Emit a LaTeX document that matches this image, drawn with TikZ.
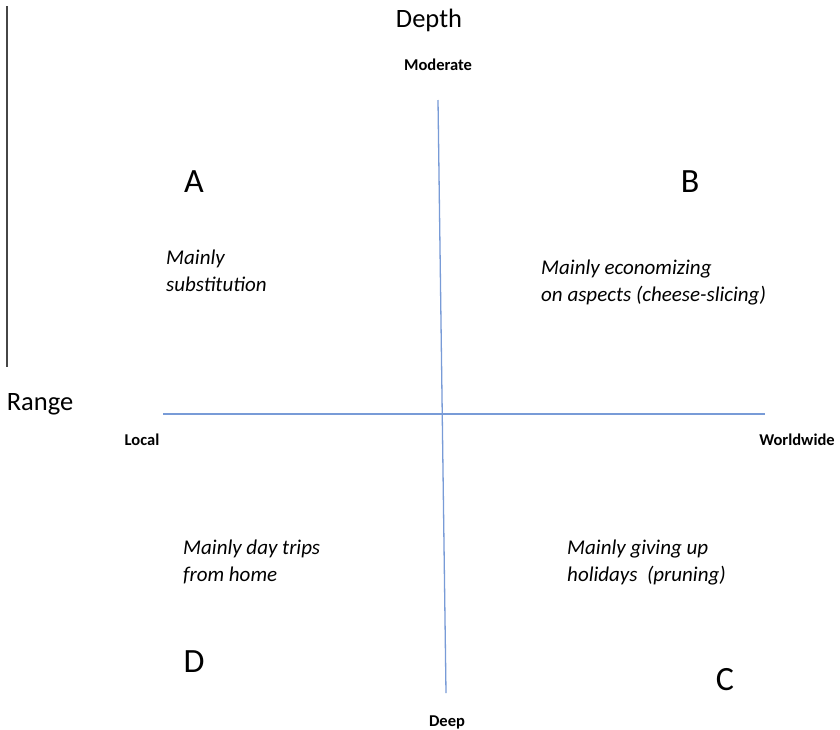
\documentclass[tikz,border=0pt]{standalone}
\usepackage{fontspec}
\setmainfont{Carlito}
\definecolor{axisblue}{RGB}{120,155,215}
\definecolor{bargray}{RGB}{70,70,70}
\begin{document}
\begin{tikzpicture}[x=1pt,y=-1pt,
  axis/.style={draw=axisblue,line width=1.3pt},
  title/.style={font=\fontsize{26.5}{30}\selectfont,inner sep=0pt,anchor=base},
  tick/.style={font=\fontsize{16.5}{19}\selectfont\bfseries,inner sep=0pt,anchor=base},
  letter/.style={font=\fontsize{34}{40}\selectfont,inner sep=0pt,anchor=base},
  desc/.style={font=\fontsize{21}{27}\selectfont\itshape,inner sep=0pt,align=left,anchor=base west}]
\useasboundingbox (0,0) rectangle (840,729);
\fill[white] (0,0) rectangle (840,729);
% left bar
\coordinate (bt) at (7,6);
\coordinate (bb) at (7,367);
\draw[draw=bargray,line width=1.4pt] (bt) -- (bb);
% axes
\coordinate (vt) at (438,100);
\coordinate (vb) at (446,693);
\coordinate (hl) at (163,414);
\coordinate (hr) at (765,414);
\draw[axis] (vt) -- (vb);
\draw[axis] (hl) -- (hr);
% titles
\node[title] (depth) at (429,27) {Depth};
\node[title] (range) at (40,410) {Range};
\node[tick] (mod) at (438,70) {Moderate};
\node[tick] (deep) at (447,726) {Deep};
\node[tick] (local) at (142,445) {Local};
\node[tick] (world) at (797,445) {Worldwide};
% letters
\node[letter] (A) at (194,192) {A};
\node[letter] (B) at (690,192) {B};
\node[letter] (D) at (194,672) {D};
\node[letter] (C) at (725,690) {C};
% descriptions (base = last line baseline)
\node[desc] (ta) at (166,291) {Mainly\\substitution};
\node[desc] (tb) at (541,301) {Mainly economizing\\on aspects (cheese-slicing)};
\node[desc] (td) at (183,581) {Mainly day trips\\from home};
\node[desc] (tc) at (567,581) {Mainly giving up\\holidays\ \ (pruning)};
\end{tikzpicture}
\end{document}
